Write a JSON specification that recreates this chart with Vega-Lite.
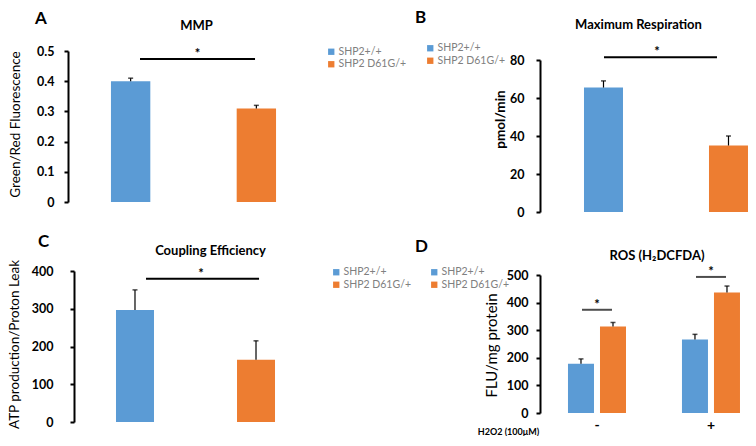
{
  "$schema": "https://vega.github.io/schema/vega-lite/v6.json",
  "padding": {"left": 7, "top": 9, "right": 0, "bottom": 0},
  "columns": 2,
  "spacing": {"row": 59, "column": 223},
  "align": "all",
  "bounds": "flush",
  "resolve": {"scale": {"color": "independent", "x": "independent", "y": "independent"}},
  "config": {
    "view": {"stroke": null},
    "font": "Lato",
    "axis": {"grid": false, "domainColor": "#000", "tickColor": "#000", "labelColor": "#000", "titleColor": "#000"},
    "axisY": {"domainWidth": 2, "tickWidth": 2, "tickSize": 4, "labelFontSize": 12.5, "labelFontWeight": "bold", "titleFontSize": 13.5, "titleFontWeight": "normal", "titleAngle": 270, "titleAlign": "center", "titleBaseline": "middle"},
    "legend": {"title": null, "symbolType": "square", "symbolSize": 40, "symbolStrokeWidth": 0, "labelFontSize": 10.5, "labelColor": "#808080", "rowPadding": 1.5, "labelOffset": 2, "direction": "vertical"},
    "title": {"fontSize": 17, "fontWeight": "bold", "anchor": "start", "frame": "group", "color": "#000"}
  },
  "concat": [
    {
      "width": 239, "height": 151,
      "title": {"text": "A", "dx": -39, "dy": 13},
      "resolve": {"axis": {"x": "independent", "y": "independent"}},
      "data": {"values": [
        {"genotype": "SHP2+/+", "value": 0.40, "upper": 0.41},
        {"genotype": "SHP2 D61G/+", "value": 0.31, "upper": 0.32}
      ]},
      "layer": [
        {"mark": {"type": "bar"},
         "encoding": {
           "x": {"field": "genotype", "type": "nominal", "sort": null,
                 "scale": {"domain": ["SHP2+/+", "SHP2 D61G/+"], "paddingInner": 0.687, "paddingOuter": 0.294},
                 "axis": {"orient": "top", "domain": false, "ticks": false, "labels": false, "title": "MMP", "titleX": 122, "titleY": -22, "titleAlign": "center", "titleBaseline": "alphabetic", "titleFontSize": 13, "titleFontWeight": "bold", "titleAngle": 0}},
           "y": {"field": "value", "type": "quantitative", "scale": {"domain": [0, 0.5], "nice": false},
                 "axis": {"values": [0, 0.1, 0.2, 0.3, 0.4, 0.5], "format": "~g", "offset": 6, "labelPadding": 10, "title": "Green/Red Fluorescence", "titleX": -53, "titleY": 73}},
           "color": {"field": "genotype", "type": "nominal", "scale": {"domain": ["SHP2+/+", "SHP2 D61G/+"], "range": ["#5B9BD5", "#ED7D31"]},
                     "legend": {"orient": "none", "legendX": 252, "legendY": -4.5}}
         }},
        {"mark": {"type": "rule", "color": "#000", "strokeWidth": 1.2},
         "encoding": {
           "x": {"field": "genotype", "type": "nominal", "sort": null, "axis": null},
           "y": {"field": "value", "type": "quantitative", "axis": null},
           "y2": {"field": "upper"}
         }},
        {"mark": {"type": "tick", "color": "#000", "size": 5, "thickness": 1.5, "orient": "horizontal"},
         "encoding": {
           "x": {"field": "genotype", "type": "nominal", "sort": null, "axis": null},
           "y": {"field": "upper", "type": "quantitative", "axis": null}
         }},
        {"data": {"values": [{"from": "SHP2+/+", "to": "SHP2 D61G/+", "y": 0.4735, "label": "*"}]},
         "mark": {"type": "rule", "color": "#000", "strokeWidth": 2},
         "encoding": {
           "x": {"field": "from", "type": "nominal", "sort": null, "bandPosition": 0.738, "axis": null},
           "x2": {"field": "to", "bandPosition": 0.466},
           "y": {"field": "y", "type": "quantitative", "axis": null}
         }},
        {"data": {"values": [{"from": "SHP2+/+", "to": "SHP2 D61G/+", "y": 0.4735, "label": "*"}]},
         "mark": {"type": "text", "fontSize": 13, "fontWeight": "bold", "baseline": "alphabetic", "dy": -1, "color": "#000"},
         "encoding": {
           "x": {"field": "from", "type": "nominal", "sort": null, "bandPosition": 2.2, "axis": null},
           "y": {"field": "y", "type": "quantitative", "axis": null},
           "text": {"field": "label"}
         }}
      ]
    },
    {
      "width": 216, "height": 161,
      "title": {"text": "B", "dx": -125, "dy": 13},
      "resolve": {"axis": {"x": "independent", "y": "independent"}},
      "data": {"values": [
        {"genotype": "SHP2+/+", "value": 65.5, "upper": 69},
        {"genotype": "SHP2 D61G/+", "value": 35, "upper": 40}
      ]},
      "layer": [
        {"mark": {"type": "bar"},
         "encoding": {
           "x": {"field": "genotype", "type": "nominal", "sort": null,
                 "scale": {"domain": ["SHP2+/+", "SHP2 D61G/+"], "paddingInner": 0.688, "paddingOuter": 0.208, "align": 0.846},
                 "axis": {"orient": "top", "domain": false, "ticks": false, "labels": false, "title": "Maximum Respiration", "titleX": 98, "titleY": -23, "titleAlign": "center", "titleBaseline": "alphabetic", "titleFontSize": 13, "titleFontWeight": "bold", "titleAngle": 0}},
           "y": {"field": "value", "type": "quantitative", "scale": {"domain": [0, 80], "nice": false, "range": [161, 9]},
                 "axis": {"values": [0, 20, 40, 60, 80], "labelPadding": 12, "title": "pmol/min", "titleX": -40, "titleY": 68, "titleFontWeight": "bold"}},
           "color": {"field": "genotype", "type": "nominal", "scale": {"domain": ["SHP2+/+", "SHP2 D61G/+"], "range": ["#5B9BD5", "#ED7D31"]},
                     "legend": {"orient": "none", "legendX": -115, "legendY": -8}}
         }},
        {"mark": {"type": "rule", "color": "#000", "strokeWidth": 1.2},
         "encoding": {
           "x": {"field": "genotype", "type": "nominal", "sort": null, "axis": null},
           "y": {"field": "value", "type": "quantitative", "axis": null},
           "y2": {"field": "upper"}
         }},
        {"mark": {"type": "tick", "color": "#000", "size": 5, "thickness": 1.5, "orient": "horizontal"},
         "encoding": {
           "x": {"field": "genotype", "type": "nominal", "sort": null, "axis": null},
           "y": {"field": "upper", "type": "quantitative", "axis": null}
         }},
        {"data": {"values": [{"from": "SHP2+/+", "to": "SHP2 D61G/+", "y": 81.4, "label": "*"}]},
         "mark": {"type": "rule", "color": "#000", "strokeWidth": 2},
         "encoding": {
           "x": {"field": "from", "type": "nominal", "sort": null, "bandPosition": 0.513, "axis": null},
           "x2": {"field": "to", "bandPosition": 0.205},
           "y": {"field": "y", "type": "quantitative", "axis": null}
         }},
        {"data": {"values": [{"from": "SHP2+/+", "to": "SHP2 D61G/+", "y": 81.4, "label": "*"}]},
         "mark": {"type": "text", "fontSize": 13, "fontWeight": "bold", "baseline": "alphabetic", "dy": -1, "color": "#000"},
         "encoding": {
           "x": {"field": "from", "type": "nominal", "sort": null, "bandPosition": 1.87, "axis": null},
           "y": {"field": "y", "type": "quantitative", "axis": null},
           "text": {"field": "label"}
         }}
      ]
    },
    {
      "width": 243, "height": 151,
      "title": {"text": "C", "dx": -36, "dy": 11},
      "resolve": {"axis": {"x": "independent", "y": "independent"}},
      "data": {"values": [
        {"genotype": "SHP2+/+", "value": 297, "upper": 350},
        {"genotype": "SHP2 D61G/+", "value": 165, "upper": 215}
      ]},
      "layer": [
        {"mark": {"type": "bar"},
         "encoding": {
           "x": {"field": "genotype", "type": "nominal", "sort": null,
                 "scale": {"domain": ["SHP2+/+", "SHP2 D61G/+"], "paddingInner": 0.686, "paddingOuter": 0.347},
                 "axis": {"orient": "top", "domain": false, "ticks": false, "labels": false, "title": "Coupling Efficiency", "titleX": 136, "titleY": -17, "titleAlign": "center", "titleBaseline": "alphabetic", "titleFontSize": 13, "titleFontWeight": "bold", "titleAngle": 0}},
           "y": {"field": "value", "type": "quantitative", "scale": {"domain": [0, 400], "nice": false},
                 "axis": {"values": [0, 100, 200, 300, 400], "labelPadding": 17, "title": "ATP production/Proton Leak", "titleX": -60, "titleY": 73}},
           "color": {"field": "genotype", "type": "nominal", "scale": {"domain": ["SHP2+/+", "SHP2 D61G/+"], "range": ["#5B9BD5", "#ED7D31"]},
                     "legend": {"orient": "none", "legendX": 257, "legendY": -4}}
         }},
        {"mark": {"type": "rule", "color": "#000", "strokeWidth": 1.2},
         "encoding": {
           "x": {"field": "genotype", "type": "nominal", "sort": null, "axis": null},
           "y": {"field": "value", "type": "quantitative", "axis": null},
           "y2": {"field": "upper"}
         }},
        {"mark": {"type": "tick", "color": "#000", "size": 5, "thickness": 1.5, "orient": "horizontal"},
         "encoding": {
           "x": {"field": "genotype", "type": "nominal", "sort": null, "axis": null},
           "y": {"field": "upper", "type": "quantitative", "axis": null}
         }},
        {"data": {"values": [{"from": "SHP2+/+", "to": "SHP2 D61G/+", "y": 379.6, "label": "*"}]},
         "mark": {"type": "rule", "color": "#000", "strokeWidth": 2},
         "encoding": {
           "x": {"field": "from", "type": "nominal", "sort": null, "bandPosition": 0.79, "axis": null},
           "x2": {"field": "to", "bandPosition": 0.58},
           "y": {"field": "y", "type": "quantitative", "axis": null}
         }},
        {"data": {"values": [{"from": "SHP2+/+", "to": "SHP2 D61G/+", "y": 379.6, "label": "*"}]},
         "mark": {"type": "text", "fontSize": 13, "fontWeight": "bold", "baseline": "alphabetic", "dy": -1, "color": "#000"},
         "encoding": {
           "x": {"field": "from", "type": "nominal", "sort": null, "bandPosition": 2.24, "axis": null},
           "y": {"field": "y", "type": "quantitative", "axis": null},
           "text": {"field": "label"}
         }}
      ]
    },
    {
      "width": 216, "height": 142,
      "title": {"text": "D", "dx": -125, "dy": 11},
      "resolve": {"axis": {"x": "independent", "y": "independent"}},
      "data": {"values": [
        {"cond": "-", "genotype": "SHP2+/+", "value": 178, "upper": 196},
        {"cond": "-", "genotype": "SHP2 D61G/+", "value": 313, "upper": 328},
        {"cond": "+", "genotype": "SHP2+/+", "value": 266, "upper": 285},
        {"cond": "+", "genotype": "SHP2 D61G/+", "value": 437, "upper": 460}
      ]},
      "layer": [
        {"mark": {"type": "bar"},
         "encoding": {
           "x": {"field": "cond", "type": "nominal", "sort": null,
                 "scale": {"domain": ["-", "+"], "paddingInner": 0.491, "paddingOuter": 0.193, "align": 0.636},
                 "axis": {"orient": "bottom", "domain": false, "ticks": false, "tickSize": 0, "labelAngle": 0, "labelFontSize": 14, "labelFontWeight": "bold", "labelPadding": 5, "title": "H2O2 (100μM)", "titleX": -32, "titleY": 18, "titleAlign": "center", "titleBaseline": "middle", "titleFontSize": 9, "titleFontWeight": "bold"}},
           "xOffset": {"field": "genotype", "type": "nominal", "sort": null, "scale": {"domain": ["SHP2+/+", "SHP2 D61G/+"], "paddingInner": 0.1875, "paddingOuter": 0}},
           "y": {"field": "value", "type": "quantitative", "scale": {"domain": [0, 500], "nice": false, "range": [142, 4]},
                 "axis": {"values": [0, 100, 200, 300, 400, 500], "labelPadding": 8, "title": "FLU/mg protein", "titleX": -49, "titleY": 74, "titleFontSize": 15}},
           "color": {"field": "genotype", "type": "nominal", "scale": {"domain": ["SHP2+/+", "SHP2 D61G/+"], "range": ["#5B9BD5", "#ED7D31"]},
                     "legend": {"orient": "none", "legendX": -111, "legendY": -4}}
         }},
        {"mark": {"type": "rule", "color": "#000", "strokeWidth": 1.2},
         "encoding": {
           "x": {"field": "cond", "type": "nominal", "sort": null, "axis": null},
           "xOffset": {"field": "genotype", "type": "nominal", "sort": null},
           "y": {"field": "value", "type": "quantitative", "axis": null},
           "y2": {"field": "upper"}
         }},
        {"mark": {"type": "tick", "color": "#000", "size": 5, "thickness": 1.5, "orient": "horizontal"},
         "encoding": {
           "x": {"field": "cond", "type": "nominal", "sort": null, "axis": null},
           "xOffset": {"field": "genotype", "type": "nominal", "sort": null},
           "y": {"field": "upper", "type": "quantitative", "axis": null}
         }},
        {"data": {"values": [{"cond": "-", "y": 374, "label": "*"}, {"cond": "+", "y": 493, "label": "*"}]},
         "mark": {"type": "tick", "color": "#000", "size": 30, "thickness": 2, "orient": "horizontal"},
         "encoding": {
           "x": {"field": "cond", "type": "nominal", "sort": null,
                 "axis": {"orient": "top", "domain": false, "ticks": false, "labels": false, "title": "ROS (H₂DCFDA)", "titleX": 116.5, "titleY": -12, "titleAlign": "center", "titleBaseline": "alphabetic", "titleFontSize": 13, "titleFontWeight": "bold", "titleAngle": 0}},
           "y": {"field": "y", "type": "quantitative", "axis": null}
         }},
        {"data": {"values": [{"cond": "-", "y": 374, "label": "*"}, {"cond": "+", "y": 493, "label": "*"}]},
         "mark": {"type": "text", "fontSize": 13, "fontWeight": "bold", "baseline": "alphabetic", "dy": -1, "color": "#000"},
         "encoding": {
           "x": {"field": "cond", "type": "nominal", "sort": null, "axis": null},
           "y": {"field": "y", "type": "quantitative", "axis": null},
           "text": {"field": "label"}
         }}
      ]
    }
  ]
}
